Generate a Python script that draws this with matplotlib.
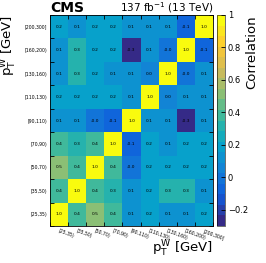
import numpy as np
import matplotlib
matplotlib.use('Agg')
import matplotlib.pyplot as plt
from matplotlib.colors import LinearSegmentedColormap, BoundaryNorm

# bins de pT del W
bins = ['[25,35)', '[35,50)', '[50,70)', '[70,90)', '[90,110)',
        '[110,130)', '[130,160)', '[160,200)', '[200,300]']

# matriz de correlacion, filas de abajo ([25,35)) hacia arriba ([200,300])
corr = np.array([
    [1.0, 0.4, 0.5, 0.4, 0.1, 0.2, 0.1, 0.1, 0.2],
    [0.4, 1.0, 0.4, 0.3, 0.1, 0.2, 0.3, 0.3, 0.1],
    [0.5, 0.4, 1.0, 0.4, -0.03, 0.2, 0.2, 0.2, 0.2],
    [0.4, 0.3, 0.4, 1.0, -0.1, 0.2, 0.1, 0.2, 0.2],
    [0.1, 0.1, -0.03, -0.1, 1.0, 0.1, 0.1, -0.3, 0.1],
    [0.2, 0.2, 0.2, 0.2, 0.1, 1.0, 0.03, 0.1, 0.1],
    [0.1, 0.3, 0.2, 0.1, 0.1, 0.03, 1.0, -0.03, 0.1],
    [0.1, 0.3, 0.2, 0.2, -0.3, 0.1, -0.03, 1.0, -0.1],
    [0.2, 0.1, 0.2, 0.2, 0.1, 0.1, 0.1, -0.1, 1.0],
])

# paleta kBird de ROOT
r = [0.2082, 0.0592, 0.0780, 0.0232, 0.1802, 0.5301, 0.8186, 0.9956, 0.9764]
g = [0.1664, 0.3599, 0.5041, 0.6419, 0.7178, 0.7492, 0.7328, 0.7862, 0.9832]
b = [0.5293, 0.8684, 0.8385, 0.7914, 0.6425, 0.4662, 0.3499, 0.1968, 0.0539]
bird = LinearSegmentedColormap.from_list('bird', list(zip(r, g, b)))
levels = np.linspace(-0.3, 1.0, 21)
norm = BoundaryNorm(levels, bird.N)

fig = plt.figure(figsize=(2.66, 2.63), dpi=100)
ax = fig.add_axes([50/266, 1-226/263, 163/266, 211/263])
cax = fig.add_axes([217/266, 1-226/263, 8/266, 211/263])

n = len(bins)
im = ax.pcolormesh(np.arange(n+1), np.arange(n+1), corr, cmap=bird, norm=norm)

for i in range(n):
    for j in range(n):
        ax.text(j+0.5, i+0.5, '%.1f' % corr[i, j], ha='center', va='center',
                fontsize=3.2, color='black')

ax.set_xlim(0, n)
ax.set_ylim(0, n)
ax.set_xticks(np.arange(n)+0.5)
ax.set_yticks(np.arange(n)+0.5)
ax.set_xticklabels(bins, rotation=-20, ha='left', rotation_mode='anchor', fontsize=3.3)
ax.set_yticklabels(bins, fontsize=3.3)
ax.tick_params(which='major', length=0, pad=2)
ax.set_xticks(np.arange(n+1), minor=True)
ax.set_yticks(np.arange(n+1), minor=True)
ax.tick_params(which='minor', direction='in', length=3, width=0.6,
               top=True, right=True, color='black')
for s in ax.spines.values():
    s.set_linewidth(0.6)

cb = fig.colorbar(im, cax=cax, ticks=[-0.2, 0, 0.2, 0.4, 0.6, 0.8, 1])
cb.ax.set_yticklabels(['\u22120.2', '0', '0.2', '0.4', '0.6', '0.8', '1'])
cb.ax.tick_params(direction='in', length=3, width=0.6, labelsize=6, pad=2)
cb.outline.set_linewidth(0.4)
cb.ax.minorticks_off()

fig.text(50/266, 1-8/263, 'CMS', fontsize=10, fontweight='bold', ha='left', va='center')
fig.text(213/266, 1-8/263, '137 fb$^{-1}$ (13 TeV)', fontsize=7.5, ha='right', va='center')
fig.text(213/266, 1-249/263, r'p$_{\mathrm{T}}^{\mathrm{W}}$ [GeV]', fontsize=9.5,
         ha='right', va='center')
fig.text(9/266, 1-15/263, r'p$_{\mathrm{T}}^{\mathrm{W}}$ [GeV]', fontsize=9.5,
         ha='center', va='top', rotation=90)
fig.text(252/266, 1-15/263, 'Correlation', fontsize=9.5,
         ha='center', va='top', rotation=90)

fig.savefig('out.png', dpi=100)
